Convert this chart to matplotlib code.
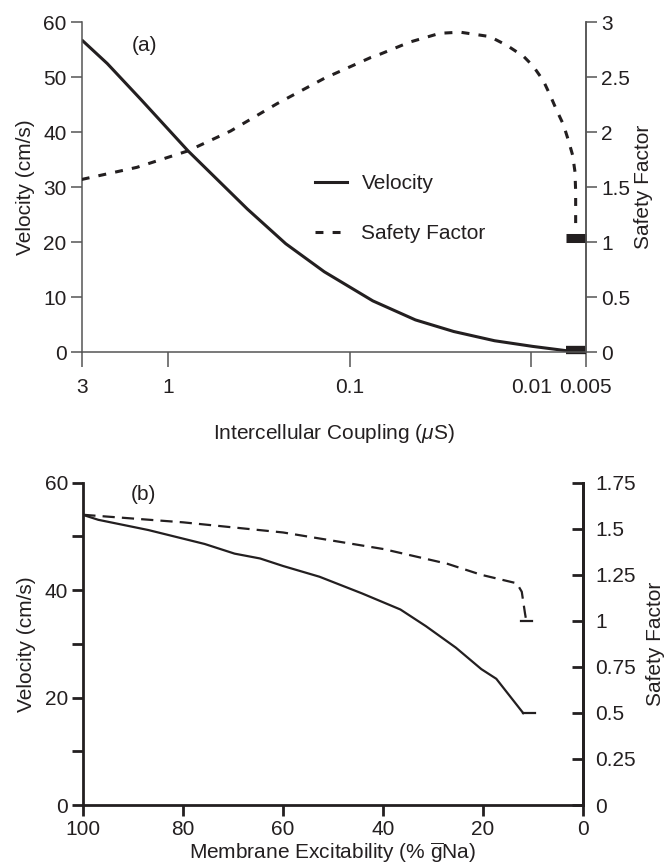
import matplotlib
matplotlib.use('Agg')
import matplotlib.pyplot as plt
from matplotlib.ticker import FixedLocator, NullLocator
from matplotlib.lines import Line2D

plt.rcParams['font.family'] = ['Liberation Sans', 'DejaVu Sans']
plt.rcParams['mathtext.fontset'] = 'custom'
plt.rcParams['mathtext.rm'] = 'Liberation Sans'
plt.rcParams['mathtext.it'] = 'Liberation Sans:italic'

INK = '#231f20'
GREY = '#555555'
FS = 15

# panel (a): intercellular coupling (uS, log axis)
coupling_v = [3.0, 2.17, 1.41, 0.778, 0.366, 0.225, 0.138, 0.0745, 0.0434, 0.0267, 0.0159, 0.0098, 0.0064]
velocity_a = [56.8, 52.5, 45.9, 36.6, 26.0, 19.7, 14.6, 9.3, 5.84, 3.73, 2.05, 1.02, 0.24]
coupling_sf = [3.0, 1.49, 0.778, 0.454, 0.251, 0.138, 0.0764, 0.0679, 0.0466, 0.0318, 0.0246,
               0.0169, 0.0136, 0.0110, 0.00973, 0.00857, 0.00787, 0.00723, 0.00664,
               0.00624, 0.0059, 0.00573, 0.00568, 0.00568]
safety_a = [1.57, 1.68, 1.83, 2.01, 2.26, 2.49, 2.68, 2.71, 2.82, 2.90, 2.91,
            2.87, 2.79, 2.69, 2.60, 2.47, 2.34, 2.20, 2.07,
            1.93, 1.79, 1.64, 1.46, 1.15]
block_x_a = [0.0064, 0.005]
block_v_a = [0.3, 0.3]
block_sf_a = [1.04, 1.04]
ticks_a = [3, 1, 0.1, 0.01, 0.005]
ticklabels_a = ['3', '1', '0.1', '0.01', '0.005']
vel_ticks_a = [0, 10, 20, 30, 40, 50, 60]
sf_ticks_a = [0, 0.5, 1, 1.5, 2, 2.5, 3]
sf_labels_a = ['0', '0.5', '1', '1.5', '2', '2.5', '3']

# panel (b): membrane excitability (% gNa)
excit_v = [100, 97, 87, 75.7, 69.7, 64.6, 60, 52.7, 44.2, 36.5, 31.4, 25.4, 20.3, 17.3, 11.9]
velocity_b = [54.0, 53.1, 51.2, 48.6, 46.8, 45.9, 44.5, 42.5, 39.4, 36.4, 33.3, 29.3, 25.3, 23.5, 17.1]
excit_sf = [100, 80, 60, 39.9, 27.1, 20.3, 13.2, 12.2, 11.55, 11.3]
safety_b = [1.576, 1.535, 1.48, 1.39, 1.31, 1.25, 1.204, 1.158, 1.04, 1.0]
end_x_v = [11.95, 9.5]
end_v = [17.1, 17.1]
end_x_sf = [12.4, 10.2]
end_sf = [1.0, 1.0]
vel_major_b = [0, 20, 40, 60]
vel_minor_b = [10, 30, 50]
sf_ticks_b = [0, 0.25, 0.5, 0.75, 1, 1.25, 1.5, 1.75]
sf_labels_b = ['0', '0.25', '0.5', '0.75', '1', '1.25', '1.5', '1.75']
excit_ticks = [100, 80, 60, 40, 20, 0]

fig = plt.figure(figsize=(6.68, 8.67), dpi=100)

# ---------------- (a)
ax1 = fig.add_axes([0.1223, 0.594, 0.7545, 0.3803])
ax1.set_xscale('log')
ax1.set_xlim(3, 0.005)
ax1.set_ylim(0, 60)
ax1r = ax1.twinx()
ax1r.set_ylim(0, 3)

ax1.plot(coupling_v, velocity_a, color=INK, lw=2.2, solid_capstyle='butt')
ax1r.plot(coupling_sf, safety_a, color=INK, lw=2.2, dashes=(2.6, 3.0))
ax1.plot(block_x_a, block_v_a, color=INK, lw=6, solid_capstyle='butt', clip_on=False)
ax1r.plot(block_x_a, block_sf_a, color=INK, lw=6.5, solid_capstyle='butt', clip_on=False)

for a in (ax1, ax1r):
    a.spines['top'].set_visible(False)
    for s in a.spines.values():
        s.set_color(GREY)
        s.set_linewidth(1.1)
ax1r.spines['left'].set_visible(False)
ax1r.spines['bottom'].set_visible(False)

ax1.xaxis.set_major_locator(FixedLocator(ticks_a))
ax1.xaxis.set_minor_locator(NullLocator())
ax1.set_xticklabels(ticklabels_a)
ax1.set_yticks(vel_ticks_a)
ax1r.set_yticks(sf_ticks_a)
ax1r.set_yticklabels(sf_labels_a)
ax1.tick_params(axis='x', direction='out', length=11, width=1.1, color=GREY,
                labelsize=FS, labelcolor=INK, pad=8)
ax1.tick_params(axis='y', direction='out', length=8, width=1.1, color=GREY,
                labelsize=FS, labelcolor=INK, pad=3)
ax1r.tick_params(axis='y', direction='out', length=8, width=1.1, color=GREY,
                 labelsize=FS, labelcolor=INK, pad=3)

ax1.set_xlabel(r'Intercellular Coupling ($\mu$S)', fontsize=FS, color=INK, labelpad=18)
ax1.set_ylabel('Velocity (cm/s)', fontsize=FS, color=INK, labelpad=6)
ax1r.set_ylabel('Safety Factor', fontsize=FS, color=INK, labelpad=3)
ax1.text(0.10, 0.93, '(a)', transform=ax1.transAxes, fontsize=FS, color=INK,
         ha='left', va='center')

handles = [Line2D([], [], color=INK, lw=2.2),
           Line2D([], [], color=INK, lw=2.2, dashes=(2.6, 3.0))]
ax1.legend(handles, ['Velocity', 'Safety Factor'], loc='center left',
           bbox_to_anchor=(0.462, 0.435), frameon=False, fontsize=FS,
           handlelength=1.55, handletextpad=0.7, labelspacing=1.5,
           borderpad=0, borderaxespad=0, labelcolor=INK)

# ---------------- (b)
ax2 = fig.add_axes([0.1247, 0.0715, 0.7476, 0.3717])
ax2.set_xlim(100, 0)
ax2.set_ylim(0, 60)
ax2r = ax2.twinx()
ax2r.set_ylim(0, 1.75)

ax2.plot(excit_v, velocity_b, color=INK, lw=1.6)
ax2.plot(end_x_v, end_v, color=INK, lw=1.6)
ax2r.plot(excit_sf, safety_b, color=INK, lw=1.6, dashes=(5.5, 3.2))
ax2r.plot(end_x_sf, end_sf, color=INK, lw=1.6)

for a in (ax2, ax2r):
    a.spines['top'].set_visible(False)
    for s in a.spines.values():
        s.set_color(INK)
        s.set_linewidth(2.0)
ax2r.spines['left'].set_visible(False)
ax2r.spines['bottom'].set_visible(False)

ax2.set_xticks(excit_ticks)
ax2.set_yticks(vel_major_b)
ax2.set_yticks(vel_minor_b, minor=True)
ax2r.set_yticks(sf_ticks_b)
ax2r.set_yticklabels(sf_labels_b)
ax2.tick_params(axis='x', direction='out', length=8, width=2.0, color=INK,
                labelsize=FS, labelcolor=INK, pad=3)
ax2.tick_params(axis='y', which='both', direction='out', length=8, width=2.0,
                color=INK, labelsize=FS, labelcolor=INK, pad=3)
ax2r.tick_params(axis='y', direction='in', length=8, width=2.0, color=INK,
                 labelsize=FS, labelcolor=INK, pad=9)

ax2.set_xlabel(r'Membrane Excitability (% $\overline{\mathrm{g}}$Na)', fontsize=FS,
               color=INK, labelpad=1)
ax2.set_ylabel('Velocity (cm/s)', fontsize=FS, color=INK, labelpad=6)
ax2r.set_ylabel('Safety Factor', fontsize=FS, color=INK, labelpad=7)
ax2.text(0.095, 0.965, '(b)', transform=ax2.transAxes, fontsize=FS, color=INK,
         ha='left', va='center')

fig.savefig('out.png', dpi=100)
